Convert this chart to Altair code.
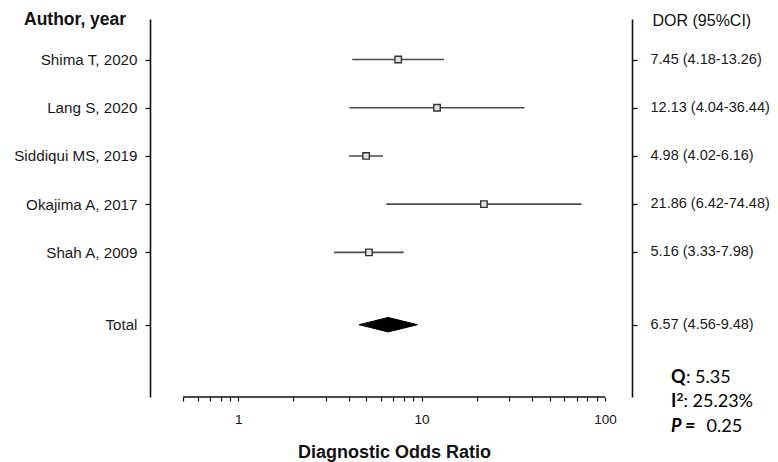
import altair as alt
import pandas as pd

# ---------------- data ----------------
authors = ["Shima T, 2020", "Lang S, 2020", "Siddiqui MS, 2019", "Okajima A, 2017", "Shah A, 2009"]
dor = [7.45, 12.13, 4.98, 21.86, 5.16]
ci_low = [4.18, 4.04, 4.02, 6.42, 3.33]
ci_high = [13.26, 36.44, 6.16, 74.48, 7.98]

total_label = "Total"
total_dor = 6.57
total_low = 4.56
total_high = 9.48

x_ticks = [0.5, 0.6, 0.7, 0.8, 0.9, 1, 2, 3, 4, 5, 6, 7, 8, 9,
           10, 20, 30, 40, 50, 60, 70, 80, 90, 100]
x_labelled = [1, 10, 100]

stat_q = ": 5.35"
stat_i2 = ": 25.23%"
stat_p = "0.25"

header_left = "Author, year"
header_right = "DOR (95%CI)"
x_title = "Diagnostic Odds Ratio"

# ---------------- layout / style ----------------
W, H = 482, 378
PAD = {"left": 150, "top": 19, "right": 778 - 150 - W, "bottom": 462 - 19 - H}
X_DOMAIN = [0.33, 140.4]
Y_DOMAIN = [-0.84, 7.0]
TOTAL_GAP = 1.5
DIAMOND_HALF = 0.15
FONT = "Liberation Sans"
STAT_FONT = "Lato"

rows = list(range(len(authors)))
total_row = rows[-1] + TOTAL_GAP
all_rows = rows + [total_row]
all_labels = authors + [total_label]
all_est = dor + [total_dor]
all_lo = ci_low + [total_low]
all_hi = ci_high + [total_high]
right_texts = [f"{e:.2f} ({l:.2f}-{h:.2f})" for e, l, h in zip(all_est, all_lo, all_hi)]


def label_expr(values, labels):
    expr = "''"
    for v, l in reversed(list(zip(values, labels))):
        expr = f"datum.value == {v} ? '{l}' : ({expr})"
    return expr


df = pd.DataFrame({"row": rows, "author": authors, "dor": dor, "lo": ci_low, "hi": ci_high})
rdf = pd.DataFrame({"row": all_rows, "txt": right_texts})
ddf = pd.DataFrame({
    "x": [total_low, total_dor, total_high],
    "y": [total_row, total_row - DIAMOND_HALF, total_row],
    "y2": [total_row, total_row + DIAMOND_HALF, total_row],
})

xscale = alt.Scale(type="log", domain=X_DOMAIN, nice=False, zero=False)
yscale = alt.Scale(domain=Y_DOMAIN, reverse=True, nice=False, zero=False)

labelled_arr = "[" + ",".join(str(v) for v in x_labelled) + "]"
xaxis = alt.Axis(
    values=x_ticks, format="~g",
    labelExpr=f"indexof({labelled_arr}, datum.value) >= 0 ? datum.label : ''",
    domain=False, grid=False, ticks=True, tickSize=4, tickColor="#111", tickWidth=1.2,
    labelFont=FONT, labelFontSize=13.5, labelColor="#111", labelPadding=11,
    labelOverlap=False, labelFlush=False,
    title=x_title, titleFont=FONT, titleFontSize=18, titleFontWeight="bold",
    titleColor="#111", titlePadding=18, titleX=244,
)

common_y = dict(
    values=all_rows, domain=True, domainColor="#111", domainWidth=1.6,
    ticks=True, tickSize=5, tickColor="#111", tickWidth=1.3, grid=False,
    labelFont=FONT, labelFontSize=15.2, labelColor="#1a1a1a",
    labelOverlap=False, labelFlush=False, title=None,
)
left_axis = alt.Axis(orient="left", labelPadding=8,
                     labelExpr=label_expr(all_rows, all_labels), **common_y)
right_axis = alt.Axis(orient="right", labels=False, **common_y)

rules = alt.Chart(df).mark_rule(color="#4d4d4d", strokeWidth=1.6).encode(
    x=alt.X("lo:Q", scale=xscale, axis=xaxis),
    x2="hi:Q",
    y=alt.Y("row:Q", scale=yscale, axis=left_axis),
)

squares = alt.Chart(df).mark_square(
    size=42, fill="#e4e4e4", stroke="#333", strokeWidth=1.4, opacity=1
).encode(
    x=alt.X("dor:Q", scale=xscale, axis=xaxis),
    y=alt.Y("row:Q", scale=yscale, axis=right_axis),
)

right_labels = alt.Chart(rdf).mark_text(
    align="left", baseline="middle", font=FONT, fontSize=14.5, color="#1a1a1a"
).encode(
    text="txt:N",
    x=alt.value(W + 18.5),
    y=alt.Y("row:Q", scale=yscale, axis=None),
)

diamond = alt.Chart(ddf).mark_area(
    color="black", opacity=1, interpolate="linear", stroke="black", strokeWidth=1
).encode(
    x=alt.X("x:Q", scale=xscale, axis=xaxis),
    y=alt.Y("y:Q", scale=yscale, axis=None),
    y2="y2:Q",
)

axis_line = alt.Chart(pd.DataFrame({"a": [min(x_ticks)], "b": [max(x_ticks)]})).mark_rule(
    color="#111", strokeWidth=1.3
).encode(
    x=alt.X("a:Q", scale=xscale, axis=xaxis),
    x2="b:Q",
    y=alt.value(H),
)


def text_layer(txt, x, y, **kw):
    return alt.Chart(pd.DataFrame({"t": [txt]})).mark_text(
        align="left", baseline="middle", **kw
    ).encode(text="t:N", x=alt.value(x), y=alt.value(y))


texts = [
    text_layer(header_left, -126, 1, font=FONT, fontSize=17.5, fontWeight="bold", color="#111"),
    text_layer(header_right, 502.5, 1.5, font=FONT, fontSize=16, color="#111"),
    text_layer("Q", 521, 358.7, font=STAT_FONT, fontSize=18, fontWeight="bold", color="#000"),
    text_layer(stat_q, 536, 358.7, font=STAT_FONT, fontSize=18, color="#000"),
    text_layer("I", 521, 383.3, font=STAT_FONT, fontSize=18, fontWeight="bold", color="#000"),
    text_layer("2", 526.5, 378, font=STAT_FONT, fontSize=12, fontWeight="bold", color="#000"),
    text_layer(stat_i2, 533.5, 383.3, font=STAT_FONT, fontSize=18, color="#000"),
    text_layer("P =", 521, 407.7, font=STAT_FONT, fontSize=18, fontWeight="bold",
               fontStyle="italic", color="#000"),
    text_layer(stat_p, 556.5, 407.7, font=STAT_FONT, fontSize=18, color="#000"),
]

chart = alt.layer(rules, diamond, axis_line, squares, right_labels, *texts).resolve_scale(
    y="independent"
).properties(
    width=W, height=H, padding=PAD, autosize=alt.AutoSizeParams(type="none"),
    background="white",
).configure_view(stroke=None)

chart.save("out.html", embed_options={"renderer": "svg", "actions": False})
